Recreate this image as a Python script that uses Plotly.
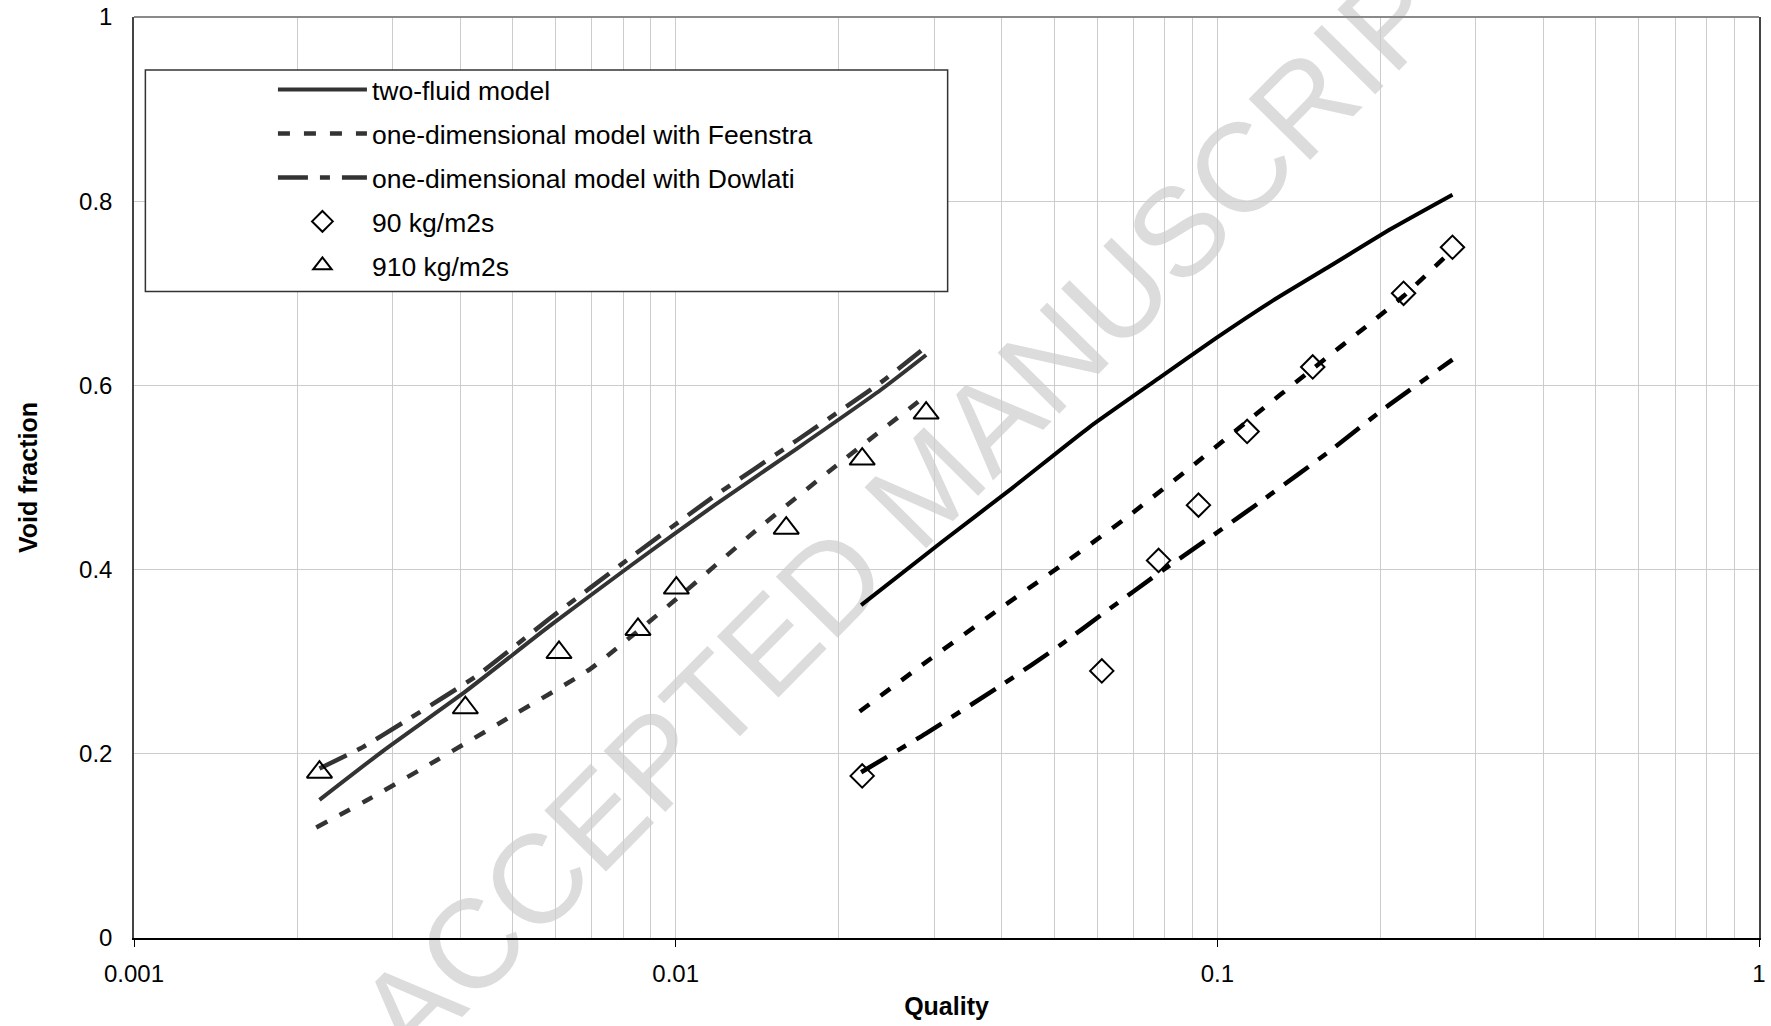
import plotly.graph_objects as go

# ---- 910 kg/m2s: model curves ----
x_two_fluid_910 = [0.0022, 0.00288, 0.0041, 0.00583, 0.00829, 0.0118, 0.0168, 0.0239, 0.029]
y_two_fluid_910 = [0.150, 0.203, 0.268, 0.338, 0.405, 0.470, 0.532, 0.595, 0.633]

x_feenstra_910 = [0.00217, 0.00268, 0.00362, 0.00488, 0.00695, 0.00989, 0.0141, 0.0200, 0.029]
y_feenstra_910 = [0.120, 0.149, 0.193, 0.238, 0.292, 0.365, 0.443, 0.515, 0.589]

x_dowlati_910 = [0.0022, 0.00264, 0.00314, 0.0043, 0.00583, 0.00829, 0.0118, 0.0168, 0.0239, 0.029]
y_dowlati_910 = [0.184, 0.207, 0.234, 0.285, 0.346, 0.414, 0.480, 0.541, 0.603, 0.642]

# ---- 90 kg/m2s: model curves ----
x_two_fluid_90 = [0.0220, 0.0310, 0.0417, 0.0580, 0.0779, 0.0993, 0.1266, 0.1615, 0.2094, 0.2717]
y_two_fluid_90 = [0.3615, 0.430, 0.488, 0.5545, 0.6076, 0.651, 0.692, 0.7296, 0.770, 0.807]

x_feenstra_90 = [0.02186, 0.02844, 0.0389, 0.0522, 0.0678, 0.0910, 0.1141, 0.1507, 0.1920, 0.2207, 0.2717]
y_feenstra_90 = [0.246, 0.296, 0.354, 0.407, 0.456, 0.515, 0.562, 0.619, 0.668, 0.697, 0.747]

x_dowlati_90 = [0.0220, 0.02895, 0.0403, 0.0513, 0.0621, 0.0792, 0.0959, 0.1223, 0.1615, 0.2023, 0.2717]
y_dowlati_90 = [0.180, 0.222, 0.276, 0.318, 0.354, 0.399, 0.433, 0.477, 0.529, 0.574, 0.628]

# ---- measurements ----
x_meas_90 = [0.0221, 0.0612, 0.0779, 0.0923, 0.1135, 0.150, 0.2207, 0.2717]
y_meas_90 = [0.176, 0.29, 0.41, 0.47, 0.55, 0.62, 0.70, 0.75]

x_meas_910 = [0.0022, 0.00409, 0.00609, 0.00852, 0.01003, 0.0160, 0.0221, 0.0290]
y_meas_910 = [0.18, 0.25, 0.31, 0.335, 0.38, 0.445, 0.52, 0.57]

# ---- axis ticks ----
x_tick_vals = [0.001, 0.01, 0.1, 1]
x_tick_text = ["0.001", "0.01", "0.1", "1"]
y_tick_vals = [0, 0.2, 0.4, 0.6, 0.8, 1]
y_tick_text = ["0", "0.2", "0.4", "0.6", "0.8", "1"]

FONT = "Liberation Sans, Arial, Helvetica, sans-serif"
DARK = "#333333"
BLACK = "#000000"
DASH_FEENSTRA = "12px,14px"
DASH_DOWLATI = "30px,12px,10px,12px"

fig = go.Figure()


def add_line(x, y, name, color, dash, width, group, show):
    fig.add_trace(go.Scatter(
        x=x, y=y, mode="lines", name=name,
        line=dict(color=color, width=width, dash=dash, shape="spline", smoothing=0.5),
        legendgroup=group, showlegend=show, hoverinfo="x+y",
    ))


# 910 kg/m2s curves (carry the legend entries)
add_line(x_two_fluid_910, y_two_fluid_910, "two-fluid model", DARK, "solid", 4, "tf", True)
add_line(x_feenstra_910, y_feenstra_910, "one-dimensional model with Feenstra", DARK, DASH_FEENSTRA, 4.5, "fe", True)
add_line(x_dowlati_910, y_dowlati_910, "one-dimensional model with Dowlati", DARK, DASH_DOWLATI, 4.5, "dw", True)

# measured void fractions
fig.add_trace(go.Scatter(
    x=x_meas_90, y=y_meas_90, mode="markers", name="90 kg/m2s",
    marker=dict(symbol="diamond-open", size=18, color=BLACK, line=dict(width=2, color=BLACK)),
    legendgroup="m90",
))
fig.add_trace(go.Scatter(
    x=x_meas_910, y=y_meas_910, mode="markers", name="910 kg/m2s",
    marker=dict(symbol="triangle-up-open", size=22, color=BLACK, line=dict(width=2, color=BLACK)),
    legendgroup="m910",
))

# 90 kg/m2s curves
add_line(x_two_fluid_90, y_two_fluid_90, "two-fluid model", BLACK, "solid", 4, "tf", False)
add_line(x_feenstra_90, y_feenstra_90, "one-dimensional model with Feenstra", BLACK, DASH_FEENSTRA, 4.5, "fe", False)
add_line(x_dowlati_90, y_dowlati_90, "one-dimensional model with Dowlati", BLACK, DASH_DOWLATI, 4.5, "dw", False)

GRID = "#cccccc"

fig.update_xaxes(
    type="log", range=[-3, 0], automargin=False,
    tickvals=x_tick_vals, ticktext=x_tick_text,
    ticks="outside", ticklen=7, tickcolor=BLACK, tickwidth=1, ticklabelstandoff=6,
    showgrid=True, gridcolor=GRID, gridwidth=1,
    minor=dict(dtick="D1", showgrid=True, gridcolor=GRID, gridwidth=1, ticks=""),
    showline=True, linecolor=BLACK, linewidth=2, mirror=False,
    tickfont=dict(family=FONT, size=24, color=BLACK),
    title=dict(text="<b>Quality</b>", font=dict(family=FONT, size=25, color=BLACK), standoff=12),
    zeroline=False,
)
fig.update_yaxes(
    range=[0, 1], automargin=False,
    tickvals=y_tick_vals, ticktext=y_tick_text,
    ticks="", ticklabelstandoff=15,
    showgrid=True, gridcolor=GRID, gridwidth=1,
    showline=True, linecolor="#444444", linewidth=1.5, mirror=True,
    tickfont=dict(family=FONT, size=24, color=BLACK),
    title=dict(text="<b>Void fraction</b>", font=dict(family=FONT, size=25, color=BLACK), standoff=34),
    zeroline=False,
)

# "ACCEPTED MANUSCRIPT" stamp sits behind the grid and the curves
fig.add_shape(
    type="line", xref="paper", yref="paper",
    x0=0.478, y0=0.496, x1=0.488, y1=0.506,
    line=dict(color="rgba(0,0,0,0)", width=1),
    layer="below",
    label=dict(
        text="ACCEPTED MANUSCRIPT",
        font=dict(family=FONT, size=126, color="#dcdcdc"),
        textangle=-45.3, textposition="middle",
        xanchor="center", yanchor="middle",
    ),
)

# top frame edge
fig.add_shape(type="line", xref="paper", yref="paper", x0=0, x1=1, y0=1, y1=1,
              line=dict(color="#8a8a8a", width=2), layer="above")

# legend frame
fig.add_shape(type="rect", xref="paper", yref="paper",
              x0=0.007, x1=0.5007, y0=0.7019, y1=0.9424,
              line=dict(color=DARK, width=1.5), fillcolor="white", layer="above")

fig.update_layout(
    width=1771, height=1026,
    margin=dict(l=134, r=12, t=17, b=88, autoexpand=False),
    paper_bgcolor="white", plot_bgcolor="rgba(0,0,0,0)",
    font=dict(family=FONT, color=BLACK),
    showlegend=True,
    legend=dict(
        x=0.0855, y=0.9470, xanchor="left", yanchor="top",
        bgcolor="rgba(0,0,0,0)", borderwidth=0,
        font=dict(family=FONT, size=26.5, color=BLACK),
        itemwidth=89, traceorder="grouped", tracegroupgap=6.5,
        itemclick=False, itemdoubleclick=False,
    ),
)

fig.write_html("out.html")
